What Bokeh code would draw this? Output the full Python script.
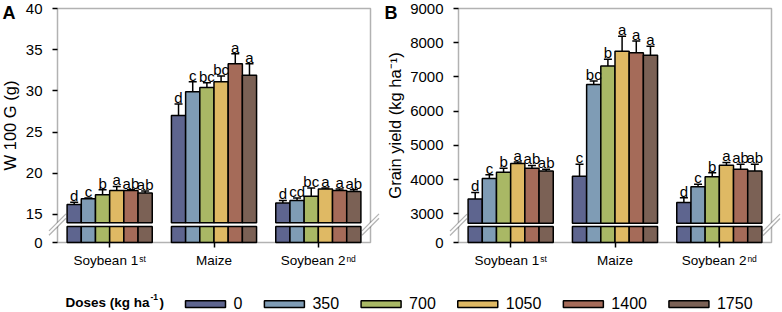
import math
from bokeh.plotting import figure
from bokeh.models import (Range1d, FixedTicker, ColumnDataSource, Whisker, TeeHead,
                          PolyAnnotation, BoxAnnotation)
from bokeh.layouts import column, row
from bokeh.embed import file_html
from bokeh.resources import INLINE
from bokeh.core.properties import value

# ---------------- data ----------------
crops = ["Soybean 1", "Maize", "Soybean 2"]
crop_sups = ["st", "", "nd"]
doses = ["0", "350", "700", "1050", "1400", "1750"]
colors = ["#5e658f", "#7f9cb5", "#a9b865", "#dfb964", "#a56b59", "#7b6155"]

# Panel A: W 100 G (g)
w100_soy1 = [16.2, 16.9, 17.4, 17.9, 17.9, 17.6]
w100_soy1_err = [0.3, 0.1, 0.6, 0.5, 0.1, 0.25]
w100_maize = [27.0, 29.9, 30.4, 31.1, 33.3, 31.9]
w100_maize_err = [1.4, 1.2, 0.6, 0.7, 1.2, 1.4]
w100_soy2 = [16.4, 16.7, 17.2, 18.1, 17.9, 17.8]
w100_soy2_err = [0.3, 0.3, 1.0, 0.1, 0.2, 0.2]
w100_soy1_let = ["d", "c", "b", "a", "ab", "ab"]
w100_maize_let = ["d", "c", "bc", "bc", "a", "a"]
w100_soy2_let = ["d", "cd", "bc", "a", "a", "ab"]
w100_ticks = [15, 20, 25, 30, 35, 40]

# Panel B: Grain yield (kg ha-1)
gy_soy1 = [3430, 4030, 4210, 4470, 4330, 4250]
gy_soy1_err = [190, 110, 120, 40, 80, 50]
gy_maize = [4100, 6780, 7320, 7750, 7710, 7630]
gy_maize_err = [350, 100, 200, 440, 340, 270]
gy_soy2 = [3330, 3790, 4080, 4420, 4300, 4250]
gy_soy2_err = [140, 70, 120, 80, 150, 200]
gy_soy1_let = ["d", "c", "b", "a", "ab", "ab"]
gy_maize_let = ["c", "bc", "b", "a", "a", "a"]
gy_soy2_let = ["d", "c", "b", "a", "ab", "ab"]
gy_ticks = [3000, 4000, 5000, 6000, 7000, 8000, 9000]

# ---------------- style / layout ----------------
FONT = "Liberation Sans"
BAR_W = 0.136
FIG_H = 285
PLOT_TOP = 8
PLOT_BOTTOM = 242
MID = 0.34  # baseline sits this many font sizes below a "middle"-aligned anchor

REG = {" ": 278, "(": 333, ")": 333, "-": 333, "S": 667, "o": 556, "y": 500, "b": 556,
       "e": 556, "a": 556, "n": 556, "M": 833, "i": 222, "z": 500, "s": 500, "t": 278,
       "d": 556, "k": 500, "g": 556, "h": 556}
for c in "0123456789":
    REG[c] = 556
BOLD = {"D": 722, "o": 611, "s": 556, "e": 556, " ": 278, "(": 333, ")": 333, "k": 556,
        "g": 611, "h": 611, "a": 556, "-": 333, "1": 556}


def tw(text, size, table=REG):
    return sum(table.get(c, 556) for c in text) * size / 1000.0


def make_panel(vals, errs, lets, y_bot, y_top, brk_lo, brk_hi, ticks, ylabel, letter,
               width, plot_left, plot_right, letter_x, title_x):
    ppx = (plot_right - plot_left) / 3.0
    ppy = (PLOT_BOTTOM - PLOT_TOP) / float(y_top - y_bot)
    xr = Range1d(-0.5 - plot_left / ppx, 2.5 + (width - plot_right) / ppx)
    yr = Range1d(y_bot - (FIG_H - PLOT_BOTTOM) / ppy, y_top + PLOT_TOP / ppy)

    def X(px):
        return -0.5 + (px - plot_left) / ppx

    def Y(py):
        return y_top - (py - PLOT_TOP) / ppy

    p = figure(width=width, height=FIG_H, output_backend="svg", toolbar_location=None,
               x_range=xr, y_range=yr, min_border=0)
    p.xgrid.visible = False
    p.ygrid.visible = False
    p.outline_line_color = None
    p.background_fill_color = "white"
    p.border_fill_color = "white"

    xs, tops, uppers, cols, lts = [], [], [], [], []
    for i in range(3):
        for j in range(6):
            xs.append(i + (j - 2.5) * BAR_W)
            tops.append(vals[i][j])
            uppers.append(vals[i][j] + errs[i][j])
            cols.append(colors[j])
            lts.append(lets[i][j])
    let_size = 15
    src = ColumnDataSource(dict(x=xs, top=tops, upper=uppers, color=cols, letter=lts,
                                ly=[u + (1.5 + MID * let_size) / ppy for u in uppers]))

    p.vbar(x="x", width=BAR_W, bottom=brk_hi, top="top", source=src, fill_color="color",
           line_color="black", line_width=1.5)
    p.vbar(x="x", width=BAR_W, bottom=y_bot, top=brk_lo, source=src, fill_color="color",
           line_color="black", line_width=1.5)

    wh = Whisker(base="x", lower="top", upper="upper", source=src, dimension="height",
                 line_color="black", line_width=1.5, lower_head=None,
                 upper_head=TeeHead(size=8, line_color="black", line_width=1.5), level="glyph")
    p.add_layout(wh)

    p.text(x="x", y="ly", text="letter", source=src, text_align="center",
           text_baseline="middle", text_font=value(FONT),
           text_font_size="%dpx" % let_size, text_color="black")

    # axes drawn at the plot box edges
    p.yaxis.fixed_location = -0.5
    p.yaxis.bounds = (y_bot, y_top)
    p.xaxis.fixed_location = y_bot
    p.xaxis.bounds = (-0.5, 2.5)
    p.yaxis.ticker = FixedTicker(ticks=[y_bot] + ticks)
    p.yaxis.major_label_overrides = {y_bot: "0"}
    p.xaxis.ticker = FixedTicker(ticks=[0, 1, 2])
    p.xaxis.major_label_overrides = {0: "", 1: "", 2: ""}
    for ax in (p.xaxis, p.yaxis):
        ax.axis_line_color = None
        ax.major_tick_line_width = 1.5
        ax.major_tick_line_color = "black"
        ax.major_tick_in = 0
        ax.major_tick_out = 5
        ax.minor_tick_line_color = None
        ax.major_label_text_font = FONT
        ax.major_label_text_font_size = "15px"
        ax.major_label_text_color = "black"
    p.yaxis.major_label_standoff = 10

    # plot box
    p.add_layout(BoxAnnotation(left=-0.5, right=2.5, bottom=y_bot, top=y_top,
                               fill_alpha=0.0, line_color="black", line_width=1.5))

    # broken-axis marks
    yc = (brk_lo + brk_hi) / 2.0
    a = 8.5 / ppx
    b = 8.5 / ppy
    g = 2.2 / ppy
    for axx in (-0.5, 2.5):
        p.add_layout(PolyAnnotation(xs=[axx - a, axx + a, axx + a, axx - a],
                                    ys=[yc - b - g, yc + b - g, yc + b + g, yc - b + g],
                                    fill_color="white", fill_alpha=1.0, line_color=None))
        for s in (-1, 1):
            p.add_layout(PolyAnnotation(xs=[axx - a, axx + a],
                                        ys=[yc - b + s * g, yc + b + s * g],
                                        fill_alpha=0.0, line_color="black", line_width=1.3))

    # category labels with superscripts
    mx, my, mt, sx, sy, st = [], [], [], [], [], []
    for i in range(3):
        main_w = tw(crops[i], 13.5)
        sup_w = tw(crop_sups[i], 8.5)
        total = main_w + sup_w + (1 if crop_sups[i] else 0)
        mx.append(i - (total / 2.0) / ppx)
        my.append(Y(265 - MID * 13.5))
        mt.append(crops[i])
        if crop_sups[i]:
            sx.append(i + (-total / 2.0 + main_w + 1) / ppx)
            sy.append(Y(261.5 - MID * 8.5))
            st.append(crop_sups[i])
    p.text(x=mx, y=my, text=mt, text_align="left", text_baseline="middle",
           text_font=value(FONT), text_font_size="13.5px", text_color="black")
    p.text(x=sx, y=sy, text=st, text_align="left", text_baseline="middle",
           text_font=value(FONT), text_font_size="8.5px", text_color="black")

    # panel letter and axis title
    p.text(x=[X(letter_x)], y=[Y(18.5 - MID * 18)], text=[letter], text_align="left",
           text_baseline="middle", text_font=value(FONT), text_font_size="18px",
           text_font_style="bold", text_color="black")
    p.text(x=[X(title_x - MID * 16.5)], y=[(y_top + y_bot) / 2.0], text=[ylabel],
           angle=math.pi / 2, text_align="center", text_baseline="middle",
           text_font=value(FONT), text_font_size="16.5px", text_color="black")
    return p


WA = 383
pA = make_panel([w100_soy1, w100_maize, w100_soy2],
                [w100_soy1_err, w100_maize_err, w100_soy2_err],
                [w100_soy1_let, w100_maize_let, w100_soy2_let],
                11.6, 40, 13.55, 14.0, w100_ticks, "W 100 G (g)", "A",
                WA, 57, 370, 2, 15)
pB = make_panel([gy_soy1, gy_maize, gy_soy2],
                [gy_soy1_err, gy_maize_err, gy_soy2_err],
                [gy_soy1_let, gy_maize_let, gy_soy2_let],
                2160, 9000, 2630, 2725, gy_ticks, "Grain yield (kg ha\u207b\u00b9)", "B",
                782 - WA, 458 - WA, 771 - WA, 1, 400 - WA)

# ---------------- legend strip ----------------
LEG_H = 312 - FIG_H
pL = figure(width=782, height=LEG_H, output_backend="svg", toolbar_location=None,
            x_range=Range1d(0, 782), y_range=Range1d(LEG_H, 0), x_axis_type=None,
            y_axis_type=None, min_border=0, outline_line_color=None)
pL.xgrid.visible = False
pL.ygrid.visible = False

SW_W = 40
lefts, rights, lab_x = [], [], []
cur = 185
for d in doses:
    lefts.append(cur)
    rights.append(cur + SW_W)
    lab_x.append(cur + SW_W + 8)
    cur = cur + SW_W + 8 + tw(d, 16) + 22
pL.quad(left=lefts, right=rights, top=300.3 - FIG_H, bottom=307 - FIG_H, fill_color=colors,
        line_color="black", line_width=1.5)
pL.text(x=lab_x, y=308 - MID * 16 - FIG_H, text=doses, text_align="left",
        text_baseline="middle", text_font=value(FONT), text_font_size="16px",
        text_color="black")

title_main = "Doses (kg ha"
mw = tw(title_main, 13.5, BOLD)
sup_x = 65 + mw + 1
close_x = sup_x + tw("-1", 8.5, BOLD) + 1.5
pL.text(x=[65, close_x], y=307 - MID * 13.5 - FIG_H, text=[title_main, ")"],
        text_align="left", text_baseline="middle", text_font=value(FONT),
        text_font_size="13.5px", text_font_style="bold", text_color="black")
pL.text(x=[sup_x], y=[299 - MID * 8.5 - FIG_H], text=["-1"], text_align="left",
        text_baseline="middle", text_font=value(FONT), text_font_size="8.5px",
        text_font_style="bold", text_color="black")

layout = column(row(pA, pB), pL)
open("out.html", "w").write(file_html(layout, INLINE))
